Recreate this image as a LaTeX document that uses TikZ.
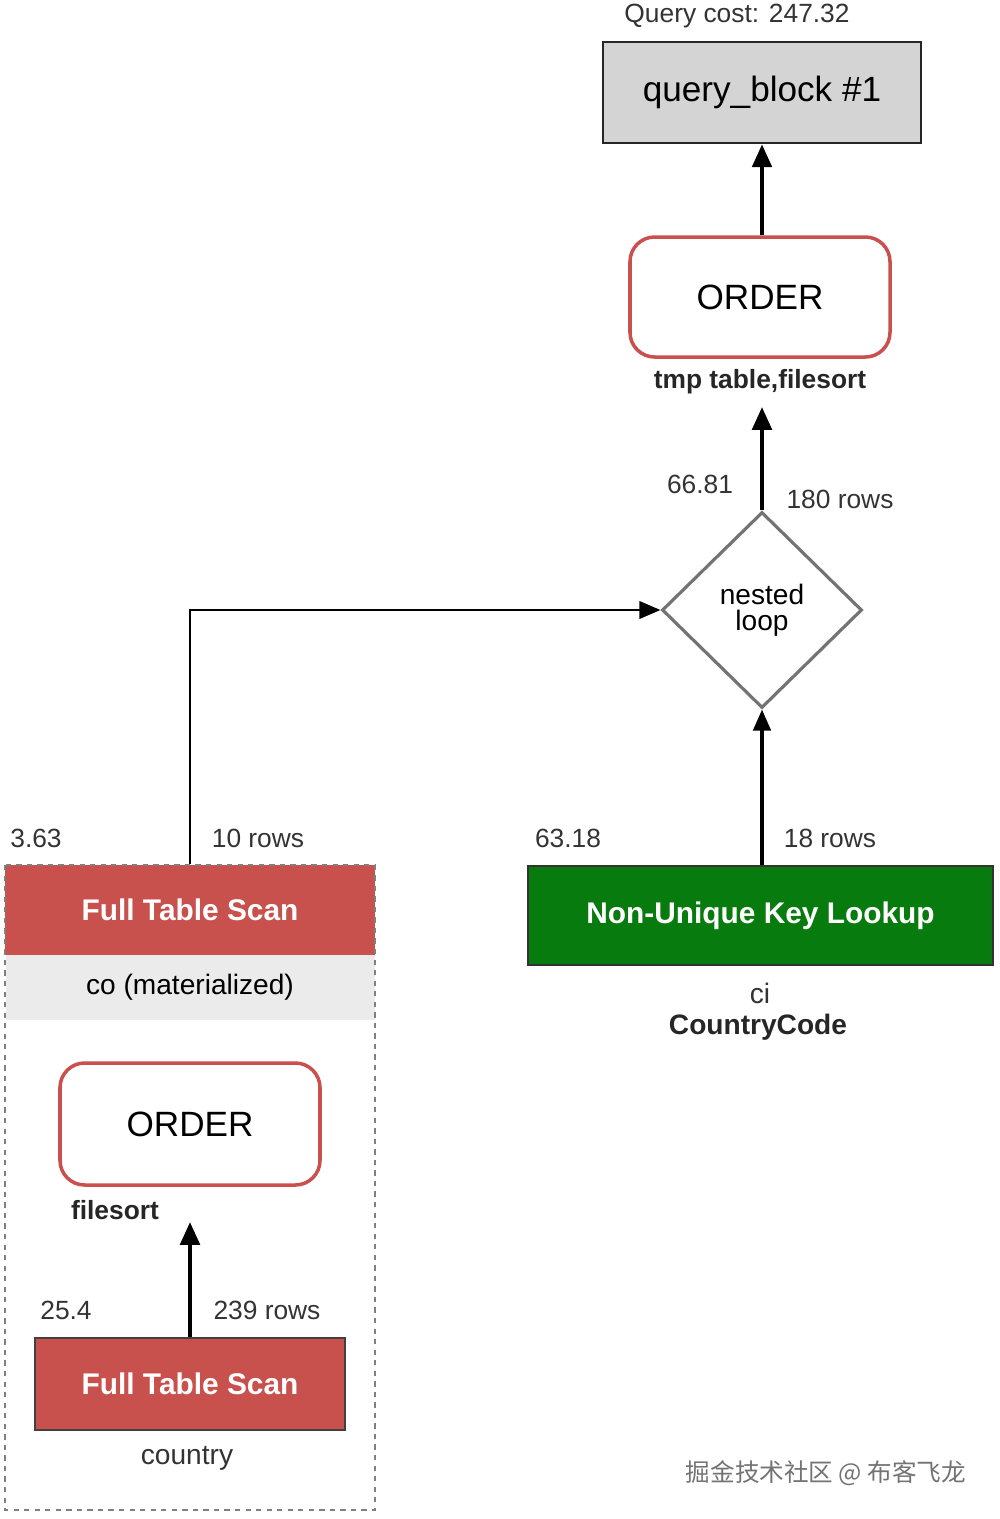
\documentclass[tikz,border=0pt]{standalone}
\usepackage{fontspec}
\setmainfont{Liberation Sans}
\newfontfamily\cjk{Noto Sans CJK SC}
\usetikzlibrary{shapes.geometric,arrows.meta}
\definecolor{ordred}{HTML}{C9504C}
\definecolor{ftsred}{HTML}{C8504D}
\definecolor{lkgreen}{HTML}{087B0E}
\definecolor{bandgray}{HTML}{EBEBEB}
\begin{document}
\begin{tikzpicture}[x=0.02cm,y=-0.02cm,
  lbl/.style={font=\fontsize{15}{17}\selectfont,text=black!80},
  blbl/.style={font=\bfseries\fontsize{15}{17}\selectfont,text=black!85},
  order/.style={draw=ordred,line width=2pt,rounded corners=14pt,fill=white,font=\fontsize{20}{22}\selectfont},
  fts/.style={draw=black!75,line width=1.5pt,fill=ftsred,text=white,font=\bfseries\fontsize{17}{19}\selectfont},
  big/.style={line width=2.4pt,-{Triangle[length=13pt,width=11pt]}},
  thin/.style={line width=1.2pt,-{Triangle[length=12pt,width=10pt]}}]
\useasboundingbox (0,0) rectangle (1000,1519);
% query block
\node[draw=black!85,line width=1.5pt,fill=black!17,minimum width=318*0.02cm,minimum height=101*0.02cm,font=\fontsize{20}{22}\selectfont] (qb) at (762,92.5) {query\_block \#1};
\node[lbl] (qc) at (737,16) {Query cost: 247.32};
% order top
\node[order,minimum width=260*0.02cm,minimum height=120*0.02cm] (ord1) at (760,297) {ORDER};
\node[blbl] (tmp) at (760,382) {tmp table,filesort};
\draw[big] (ord1.north -| qb.south) -- (qb.south);
% diamond
\node[diamond,draw=black!55,line width=1.8pt,fill=white,minimum width=200*0.02cm,minimum height=196*0.02cm,inner sep=0pt,align=center,font=\fontsize{16}{15}\selectfont] (nl) at (762,610) {nested\\loop};
\coordinate (tmpb) at (762,407);
\draw[big] (nl.north) -- (tmpb);
\node[lbl] (c1) at (700,484) {66.81};
\node[lbl] (r1) at (840,499) {180 rows};
% left dashed container
\node[fts,draw=none,minimum width=370*0.02cm,minimum height=90*0.02cm] (fts1) at (190,910) {Full Table Scan};
\node[fill=bandgray,minimum width=369*0.02cm,minimum height=65*0.02cm,font=\fontsize{16}{18}\selectfont] (co) at (190,987.5) {co (materialized)};
\draw[dashed,draw=black!50,line width=1pt] (5,865) rectangle (375,1510);
\node[lbl] (c2) at (36,838) {3.63};
\node[lbl] (r2) at (258,838) {10 rows};
\coordinate (corner) at (190,610);
\draw[thin] (fts1.north) -- (corner) -- (nl.west);
% inner order
\node[order,minimum width=260*0.02cm,minimum height=122*0.02cm] (ord2) at (190,1124) {ORDER};
\node[blbl] (fs) at (115,1210) {filesort};
\node[fts,minimum width=310*0.02cm,minimum height=92*0.02cm] (fts2) at (190,1384) {Full Table Scan};
\coordinate (fsb) at (190,1222);
\draw[big] (fts2.north) -- (fsb);
\node[lbl] (c3) at (66,1310) {25.4};
\node[lbl] (r3) at (267,1310) {239 rows};
\node[lbl,font=\fontsize{16}{18}\selectfont] (cty) at (187,1458) {country};
% green
\node[draw=black!80,line width=1.5pt,fill=lkgreen,text=white,font=\bfseries\fontsize{17}{19}\selectfont,minimum width=465*0.02cm,minimum height=99*0.02cm] (nuk) at (760.5,915.5) {Non-Unique Key Lookup};
\draw[thin,line width=1.8pt] (nuk.north -| nl.south) -- (nl.south);
\node[lbl] (c4) at (568,838) {63.18};
\node[lbl] (r4) at (830,838) {18 rows};
\node[lbl,font=\fontsize{16}{18}\selectfont] (ci) at (760,993) {ci};
\node[blbl,font=\bfseries\fontsize{16}{18}\selectfont] (cc) at (758,1027) {CountryCode};
% watermark
\node[text=black!55,font=\cjk\fontsize{14}{16}\selectfont] (wm) at (826,1473) {掘金技术社区 @ 布客飞龙};
\end{tikzpicture}
\end{document}
